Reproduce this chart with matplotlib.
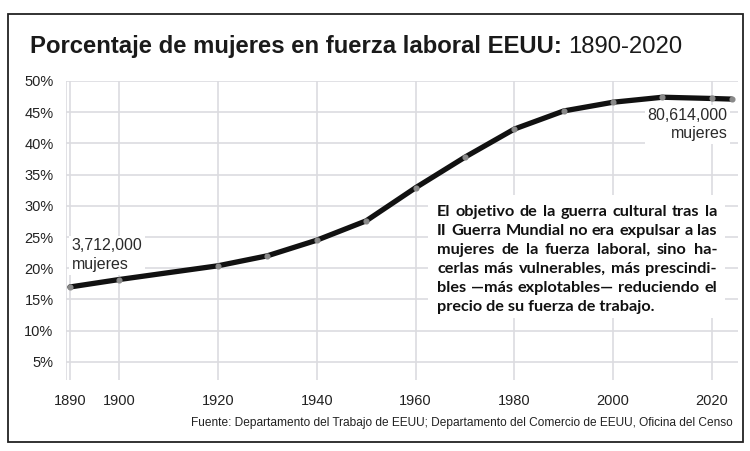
import matplotlib
matplotlib.use("Agg")
import matplotlib.pyplot as plt
from matplotlib.patches import Rectangle

plt.rcParams.update({"font.family": ["Liberation Sans", "DejaVu Sans"]})

# datos
years = [1890, 1900, 1920, 1930, 1940, 1950, 1960, 1970, 1980, 1990, 2000, 2010, 2020, 2024]
pct = [17.0, 18.2, 20.4, 22.0, 24.5, 27.6, 32.9, 37.8, 42.3, 45.2, 46.6, 47.4, 47.2, 47.1]
xticks = [1890, 1900, 1920, 1940, 1960, 1980, 2000, 2020]
yticks = [5, 10, 15, 20, 25, 30, 35, 40, 45, 50]

titulo = "Porcentaje de mujeres en fuerza laboral EEUU:"
titulo_anios = "1890-2020"
fuente = ("Fuente: Departamento del Trabajo de EEUU; Departamento del Comercio de EEUU, "
          "Oficina del Censo")
nota = [
    "El objetivo de la guerra cultural tras la",
    "II Guerra Mundial no era expulsar a las",
    "mujeres de la fuerza laboral, sino ha-",
    "cerlas más vulnerables, más prescindi-",
    "bles —más explotables— reduciendo el",
    "precio de su fuerza de trabajo.",
]

W, H = 750, 451
fig = plt.figure(figsize=(7.5, 4.51), dpi=100)


def fx(px):
    return px / W


def fy(py):
    return 1 - py / H


# marco exterior
fig.add_artist(Rectangle((fx(8), fy(442)), fx(743) - fx(8), fy(14) - fy(442),
                         transform=fig.transFigure, fill=False, ec="#222222", lw=1.3))

ax = fig.add_axes([fx(66), fy(380), fx(738) - fx(66), fy(81) - fy(380)])
ax.set_xlim(1889.2, 2025.3)
ax.set_ylim(2.1, 50)
ax.set_xticks(xticks)
ax.set_xticklabels([str(x) for x in xticks], fontsize=10.5, color="#222222")
ax.set_yticks(yticks)
ax.set_yticklabels([f"{y}%" for y in yticks], fontsize=10.5, color="#222222")
ax.tick_params(length=0, pad=10)
ax.tick_params(axis="y", pad=9)
for s in ax.spines.values():
    s.set_visible(False)
ax.axvline(1889.2, color="#dcdce0", lw=1.2, zorder=0)
ax.grid(True, color="#dcdce0", lw=1.2, zorder=0)
ax.set_axisbelow(True)

ax.plot(years, pct, color="#111111", lw=3.8, solid_capstyle="round", zorder=3)
ax.plot(years, pct, ls="none", marker="o", ms=3.4, color="#8a8a8a", zorder=4)

ax.text(1890.3, 22.1, "3,712,000\nmujeres", fontsize=11.5, color="#2a2a2a",
        ha="left", va="center", linespacing=1.3, zorder=2,
        bbox=dict(facecolor="white", edgecolor="none", pad=2))
ax.text(2023.2, 43.0, "80,614,000\nmujeres", fontsize=11.5, color="#2a2a2a",
        ha="right", va="center", linespacing=1.3, multialignment="right", zorder=2,
        bbox=dict(facecolor="white", edgecolor="none", pad=2))

# recuadro blanco detrás de la nota
fig.add_artist(Rectangle((fx(428), fy(318)), fx(725) - fx(428), fy(195) - fy(318),
                         transform=fig.transFigure, fc="white", ec="none", zorder=2))

# título
t1 = fig.text(fx(30), fy(47), titulo, fontsize=17.2, fontweight="bold",
              color="#1a1a1a", ha="left", va="center")
fig.canvas.draw()
r = fig.canvas.get_renderer()
bb = t1.get_window_extent(r)
fig.text(fx(bb.x1 + 6), fy(47), titulo_anios, fontsize=17.2, color="#1a1a1a",
         ha="left", va="center")

fig.text(fx(733), fy(423), fuente, fontsize=8.6, color="#222222", ha="right", va="center")

# nota justificada
x0, x1 = 437, 717
y_first, dy = 212, 19
nfont = dict(fontsize=11.7, fontweight="bold", color="#111111",
             family=["Lato", "DejaVu Sans"], va="center", ha="left", zorder=5)
for i, linea in enumerate(nota):
    yy = y_first + i * dy
    palabras = linea.split(" ")
    if i == len(nota) - 1:
        fig.text(fx(x0), fy(yy), linea, **nfont)
        continue
    arts = [fig.text(0, fy(yy), p, **nfont) for p in palabras]
    anchos = [a.get_window_extent(r).width for a in arts]
    hueco = (x1 - x0 - sum(anchos)) / (len(palabras) - 1)
    xc = x0
    for a, w in zip(arts, anchos):
        a.set_x(fx(xc))
        xc += w + hueco

fig.savefig("out.png", dpi=100)
